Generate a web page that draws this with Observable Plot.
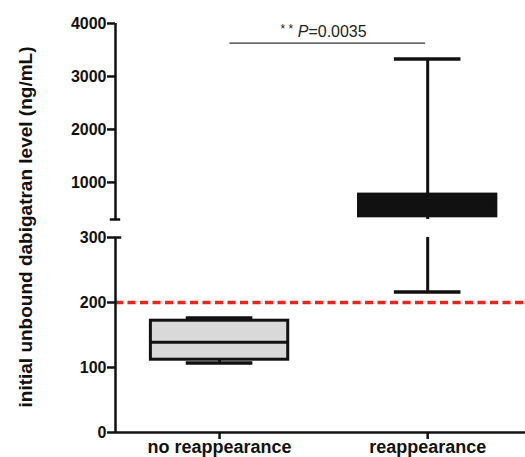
<!DOCTYPE html>
<html>
<head>
<meta charset="utf-8">
<script src="https://cdn.jsdelivr.net/npm/d3@7"></script>
<script src="https://cdn.jsdelivr.net/npm/@observablehq/plot@0.6"></script>
<style>
  html, body { margin: 0; padding: 0; background: white; }
  #chart { position: relative; width: 525px; height: 457px; overflow: hidden; }
  #chart svg { position: absolute; left: 0; top: 0; }
</style>
</head>
<body>
<div id="chart"></div>
<script>
// ---- data ----
const categories = ["no reappearance", "reappearance"];
const mins    = [107, 216];
const q1s     = [112, 360];
const medians = [139, 550];
const q3s     = [172, 770];
const maxs    = [176, 3330];
const threshold = 200;
const breakValue = 300;          // axis break: lower segment 0–300, upper 300–4000
const lowerTicks = [0, 100, 200, 300];
const upperTicks = [1000, 2000, 3000, 4000];
const upperMax = 4000;
const yLabel = "initial unbound dabigatran level (ng/mL)";
const pLabel = "** P=0.0035";
const bracketY = 3630;
const bracketFrom = 1.05, bracketTo = 1.99;

const rows = categories.map((c, i) => ({
  cat: c, x: i + 1, min: mins[i], q1: q1s[i], med: medians[i], q3: q3s[i], max: maxs[i]
}));

// ---- shared layout ----
const W = 525, H = 457;
const xDomain = [0.5, 2.47];
const boxHalf = 0.33, capHalf = 0.16;
const font = "'Liberation Sans', Arial, Helvetica, sans-serif";
const ink = "#111";
const common = {
  width: W, height: H, marginLeft: 115, marginRight: 0,
  x: {type: "linear", domain: xDomain, axis: null},
  style: {background: "transparent", fontFamily: font, color: ink, overflow: "visible"}
};
const plain = d => String(d);

// ---- upper segment (300–4000) ----
const upRows = rows.filter(d => d.max > breakValue);
const upper = Plot.plot({
  ...common,
  marginTop: 23, marginBottom: 238,
  y: {domain: [breakValue, upperMax], axis: null},
  marks: [
    Plot.ruleX([xDomain[0]], {stroke: ink, strokeWidth: 2.5}),
    Plot.axisY({ticks: upperTicks, tickFormat: plain, tickSize: 8, tickPadding: 1, fontSize: 16, fontWeight: "bold",
                stroke: ink, strokeWidth: 2.5, label: null}),
    Plot.ruleY([breakValue], {x1: xDomain[0] - 0.025, x2: xDomain[0] + 0.025, stroke: ink, strokeWidth: 2.5}),
    Plot.ruleX(upRows, {x: "x", y1: d => Math.max(d.min, breakValue), y2: "max", stroke: ink, strokeWidth: 3}),
    Plot.ruleY(upRows, {y: "max", x1: d => d.x - capHalf, x2: d => d.x + capHalf, stroke: ink, strokeWidth: 3.5}),
    Plot.rect(rows.filter(d => d.q1 >= breakValue), {
      x1: d => d.x - boxHalf, x2: d => d.x + boxHalf, y1: "q1", y2: "q3",
      fill: ink, stroke: ink, strokeWidth: 3
    }),
    Plot.ruleY(rows.filter(d => d.med >= breakValue), {y: "med", x1: d => d.x - boxHalf, x2: d => d.x + boxHalf, stroke: ink, strokeWidth: 3}),
    Plot.ruleY([bracketY], {x1: bracketFrom, x2: bracketTo, stroke: "#333", strokeWidth: 1.2}),
    Plot.text([pLabel], {x: (bracketFrom + bracketTo) / 2 - 0.02, y: bracketY, text: d => d, lineAnchor: "bottom",
                         dy: -6, fontSize: 16, fill: "#222", textAnchor: "middle"})
  ]
});

// mixed styling of the p-value label: small raised asterisks, italic P
d3.select(upper).selectAll("text").filter(function() { return this.textContent === pLabel; }).each(function() {
  const t = d3.select(this);
  const [stars, rest] = pLabel.split(" ");
  t.text(null);
  t.append("tspan").attr("font-size", 12).attr("dy", -4).text(stars.split("").join(" "));
  t.append("tspan").attr("dy", 4).text(" ");
  t.append("tspan").attr("font-style", "italic").text(rest.charAt(0));
  t.append("tspan").text(rest.slice(1));
});

// ---- lower segment (0–300) ----
const lower = Plot.plot({
  ...common,
  marginTop: 237, marginBottom: 25,
  y: {domain: [0, breakValue], axis: null},
  marks: [
    Plot.ruleY([threshold], {stroke: "#e8251f", strokeWidth: 3.5, strokeDasharray: "8,4.5"}),
    Plot.ruleX([xDomain[0]], {stroke: ink, strokeWidth: 2.5}),
    Plot.ruleY([0], {stroke: ink, strokeWidth: 2.5}),
    Plot.axisY({ticks: lowerTicks, tickFormat: plain, tickSize: 8, tickPadding: 1, fontSize: 16, fontWeight: "bold",
                stroke: ink, strokeWidth: 2.5, label: null}),
    Plot.axisX({ticks: [1, 2], tickFormat: i => categories[i - 1], tickSize: 7, tickPadding: 1,
                fontSize: 18, fontWeight: "bold", stroke: ink, strokeWidth: 2.5, label: null}),
    Plot.ruleY([breakValue], {x1: xDomain[0], x2: xDomain[0] + 0.03, stroke: ink, strokeWidth: 2.5}),
    Plot.ruleX(rows, {x: "x", y1: "min", y2: d => Math.min(d.max, breakValue), stroke: ink, strokeWidth: 3}),
    Plot.ruleY(rows, {y: "min", x1: d => d.x - capHalf, x2: d => d.x + capHalf, stroke: ink, strokeWidth: 3.5}),
    Plot.ruleY(rows.filter(d => d.max <= breakValue), {y: "max", x1: d => d.x - capHalf, x2: d => d.x + capHalf, stroke: ink, strokeWidth: 3.5}),
    Plot.rect(rows.filter(d => d.q3 <= breakValue), {
      x1: d => d.x - boxHalf, x2: d => d.x + boxHalf, y1: "q1", y2: "q3",
      fill: "#d9d9d9", stroke: ink, strokeWidth: 3
    }),
    Plot.ruleY(rows.filter(d => d.med <= breakValue), {y: "med", x1: d => d.x - boxHalf, x2: d => d.x + boxHalf, stroke: ink, strokeWidth: 3}),
    Plot.text([yLabel], {frameAnchor: "left", text: d => d, rotate: -90, textAnchor: "middle", lineAnchor: "middle",
                         dx: -90, dy: -108, fontSize: 19, fontWeight: "bold", fill: ink})
  ]
});

const chart = document.getElementById("chart");
chart.appendChild(lower);
chart.appendChild(upper);
</script>
</body>
</html>
